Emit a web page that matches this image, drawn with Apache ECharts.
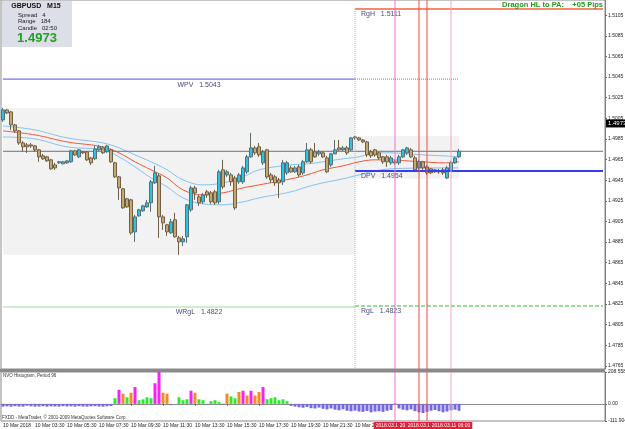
<!DOCTYPE html>
<html>
<head>
<meta charset="UTF-8">
<title>GBPUSD M15</title>
<script src="https://cdn.jsdelivr.net/npm/echarts@6.0.0/dist/echarts.min.js"></script>
<style>
body { margin: 0; padding: 0; background: #fff; }
#main { width: 625px; height: 429px; }
</style>
</head>
<body>
<div id="main"></div>
<script>
// candles, one per M15 bar
var opens = [1.50034,1.50131,1.50112,1.49986,1.49928,1.49811,1.49792,1.49792,1.49782,1.49744,
 1.49686,1.49676,1.49647,1.49598,1.49618,1.49608,1.49618,1.49628,1.49734,1.49676,
 1.49725,1.49725,1.49666,1.49657,1.49744,1.49763,1.49725,1.49744,1.49618,1.49482,
 1.49366,1.49269,1.49259,1.48949,1.49104,1.49153,1.49191,1.49230,1.49424,1.49492,
 1.49094,1.49017,1.48939,1.49065,1.48891,1.48852,1.48901,1.49162,1.49375,1.49288,
 1.49240,1.49337,1.49327,1.49337,1.49240,1.49550,1.49501,1.49501,1.49472,1.49434,
 1.49434,1.49531,1.49676,1.49763,1.49773,1.49618,1.49744,1.49501,1.49482,1.49453,
 1.49434,1.49521,1.49569,1.49531,1.49579,1.49521,1.49628,1.49744,1.49725,1.49705,
 1.49715,1.49666,1.49598,1.49705,1.49763,1.49744,1.49763,1.49744,1.49869,1.49860,
 1.49840,1.49821,1.49725,1.49744,1.49715,1.49676,1.49676,1.49618,1.49628,1.49618,
 1.49676,1.49715,1.49744,1.49666,1.49569,1.49628,1.49579,1.49560,1.49550,1.49540,
 1.49550,1.49472,1.49550,1.49618,1.49676];
var closes = [1.50131,1.50102,1.49986,1.49928,1.49811,1.49773,1.49773,1.49782,1.49744,1.49676,
 1.49657,1.49637,1.49560,1.49569,1.49628,1.49628,1.49637,1.49734,1.49695,1.49744,
 1.49715,1.49647,1.49618,1.49753,1.49773,1.49715,1.49782,1.49628,1.49482,1.49375,
 1.49182,1.49191,1.48939,1.49094,1.49162,1.49201,1.49230,1.49434,1.49521,1.49094,
 1.49036,1.48949,1.49046,1.48901,1.48852,1.48881,1.49211,1.49375,1.49327,1.49230,
 1.49307,1.49307,1.49240,1.49230,1.49531,1.49385,1.49531,1.49434,1.49182,1.49501,
 1.49569,1.49676,1.49763,1.49715,1.49695,1.49725,1.49482,1.49453,1.49424,1.49424,
 1.49618,1.49618,1.49531,1.49569,1.49501,1.49628,1.49744,1.49628,1.49676,1.49725,
 1.49676,1.49531,1.49705,1.49744,1.49744,1.49763,1.49715,1.49860,1.49860,1.49840,
 1.49821,1.49695,1.49686,1.49695,1.49666,1.49628,1.49628,1.49666,1.49618,1.49676,
 1.49744,1.49763,1.49676,1.49550,1.49628,1.49569,1.49521,1.49521,1.49531,1.49531,
 1.49521,1.49569,1.49618,1.49666,1.49730];
var lows = [1.50015,1.50092,1.49937,1.49908,1.49792,1.49725,1.49715,1.49763,1.49725,1.49628,
 1.49647,1.49628,1.49550,1.49550,1.49608,1.49608,1.49608,1.49618,1.49686,1.49666,
 1.49705,1.49637,1.49598,1.49647,1.49734,1.49705,1.49715,1.49618,1.49472,1.49259,
 1.49172,1.49182,1.48920,1.48852,1.49094,1.49143,1.49182,1.49143,1.49414,1.48891,
 1.48968,1.48910,1.48930,1.48891,1.48726,1.48813,1.48843,1.49143,1.49259,1.49201,
 1.49220,1.49278,1.49220,1.49211,1.49220,1.49366,1.49482,1.49395,1.49162,1.49414,
 1.49414,1.49511,1.49666,1.49695,1.49676,1.49598,1.49463,1.49424,1.49395,1.49278,
 1.49404,1.49501,1.49521,1.49521,1.49482,1.49501,1.49618,1.49608,1.49666,1.49686,
 1.49666,1.49521,1.49579,1.49715,1.49734,1.49734,1.49695,1.49734,1.49840,1.49831,
 1.49811,1.49676,1.49666,1.49676,1.49647,1.49608,1.49579,1.49598,1.49598,1.49598,
 1.49666,1.49695,1.49666,1.49540,1.49550,1.49550,1.49501,1.49511,1.49521,1.49511,
 1.49501,1.49463,1.49540,1.49608,1.49666];
var highs = [1.50150,1.50141,1.50121,1.49995,1.49937,1.49831,1.49811,1.49811,1.49792,1.49753,
 1.49705,1.49686,1.49657,1.49618,1.49637,1.49637,1.49647,1.49744,1.49744,1.49753,
 1.49734,1.49734,1.49676,1.49782,1.49792,1.49782,1.49792,1.49753,1.49628,1.49492,
 1.49375,1.49278,1.49269,1.49114,1.49172,1.49211,1.49259,1.49453,1.49589,1.49511,
 1.49114,1.49027,1.49075,1.49133,1.48910,1.48910,1.49220,1.49395,1.49395,1.49307,
 1.49327,1.49356,1.49346,1.49356,1.49550,1.49647,1.49550,1.49521,1.49492,1.49521,
 1.49589,1.49695,1.49908,1.49782,1.49811,1.49744,1.49753,1.49521,1.49501,1.49472,
 1.49647,1.49637,1.49589,1.49589,1.49598,1.49647,1.49811,1.49763,1.49811,1.49744,
 1.49734,1.49686,1.49715,1.49840,1.49840,1.49782,1.49782,1.49869,1.49879,1.49869,
 1.49850,1.49831,1.49744,1.49753,1.49725,1.49686,1.49695,1.49686,1.49647,1.49695,
 1.49753,1.49773,1.49763,1.49686,1.49647,1.49637,1.49598,1.49569,1.49560,1.49560,
 1.49569,1.49589,1.49637,1.49676,1.49753];

// NVO histogram, period 96
var nvo = [-18,-16,-18,-15,-17,-18,-12,-16,-18,-17,-15,-18,-16,-17,-18,-15,-17,-16,-18,-15,
 -17,-18,-16,-15,-17,-18,-16,-14,
 37,92,67,43,73,110,24,30,43,37,135,208.558,73,67,-8,0,43,24,30,86,73,30,24,-6,18,24,12,3,
 67,49,37,78,86,55,86,55,78,110,30,37,43,24,30,18,
 -12,-18,-22,-25,-20,-28,-30,-24,-32,-36,-30,-38,-42,-35,-45,-48,-44,-50,-52,-46,-55,-50,
 -48,-52,-45,-40,5,-30,-38,-42,-36,-48,-55,-60,-52,-45,-40,-48,-55,-50,-42,-38,-45];

// moving average + envelope, read at a few bars
var maIdx = [0,8,16,25,29,33,37,41,45,50,55,60,64,72,76,80,85,89,93,97,101,105,110,114];
var maMid = [1.49928,1.49889,1.49821,1.49773,1.49715,1.49628,1.49550,1.49472,1.49356,1.49307,
 1.49327,1.49375,1.49404,1.49463,1.49501,1.49550,1.49589,1.49628,1.49647,1.49647,1.49637,1.49628,1.49618,1.49628];
var maUp = [1.49976,1.49937,1.49860,1.49811,1.49763,1.49695,1.49628,1.49550,1.49453,1.49404,
 1.49424,1.49482,1.49550,1.49598,1.49608,1.49628,1.49657,1.49676,1.49715,1.49715,1.49705,1.49695,1.49686,1.49676];
var maDn = [1.49869,1.49850,1.49773,1.49744,1.49676,1.49579,1.49472,1.49385,1.49278,1.49220,
 1.49211,1.49240,1.49278,1.49337,1.49385,1.49424,1.49463,1.49501,1.49540,1.49560,1.49565,1.49569,1.49569,1.49569];

var priceTicks = [1.4765,1.4785,1.4805,1.4825,1.4845,1.4865,1.4885,1.4905,1.4925,1.4945,
 1.4965,1.4985,1.5005,1.5025,1.5045,1.5065,1.5085,1.5105];
var nvoTicks = [208.558, 0, -111.904];
var timeLabels = ['10 Mar 2018','10 Mar 03:30','10 Mar 05:30','10 Mar 07:30','10 Mar 09:30',
 '10 Mar 11:30','10 Mar 13:30','10 Mar 15:30','10 Mar 17:30','10 Mar 19:30','10 Mar 21:30','10 Mar 23:30'];

// levels drawn by the Dragon indicator
var RGH = 1.5111, WPV = 1.5043, DPV = 1.4954, RGL = 1.4823, WRGL = 1.4822, BID = 1.4973;
var prevHigh = 1.50150, prevLow = 1.48726, dayHigh = 1.49879, dayLow = 1.49463;
var dayStart = 88, lastBar = 114;
var vlines = [98, 104, 106, 112];
var vlineColors = ['#ec70d0', '#ec4a40', '#ec4a40', '#f2a8bc'];
var vlineLabels = ['2018.03.11 01:30', '2018.03.11 03:15', '2018.03.11 04:00', '2018.03.11 06:00'];

var YMIN = 1.47619, YMAX = 1.51197;
var NMIN = -111.904, NMAX = 208.558;
var SLOTS = 151; // includes the empty chart shift on the right
var FONT = 'Liberation Sans';

var cats = [];
for (var i = 0; i < SLOTS; i++) cats.push(i);
var ohlc = opens.map(function(o, i) { return [o, closes[i], lows[i], highs[i]]; });
function pts(vals) { return maIdx.map(function(x, k) { return [x, vals[k]]; }); }

function lvlLabel(text, pos, pad) {
    return { show: true, formatter: text, position: pos, color: '#4a4a7c', fontSize: 7,
             fontFamily: FONT, distance: 2, padding: pad };
}
// one line series per drawn object; a transparent markLine only carries its label
function obj(grid, color, type, width, line, mark, z) {
    var s = { type: 'line', xAxisIndex: grid, yAxisIndex: grid, data: line, symbol: 'none', showSymbol: false,
              silent: true, z: z || 5, lineStyle: { color: color, type: type, width: width } };
    if (mark) {
        s.markLine = { silent: true, symbol: ['none', 'none'], animation: false,
                       lineStyle: { color: 'rgba(0,0,0,0)' }, data: [mark] };
    }
    return s;
}
function hseg(a, b, y) { return [[a, y], [b, y]]; }
function hlab(a, b, y, label) { return [{ coord: [a, y], label: label }, { coord: [b, y] }]; }

var objects = [
    obj(0, '#f4603c', 'solid', 1.5, hseg(dayStart, SLOTS - 1, RGH),
        hlab(dayStart, SLOTS - 1, RGH, lvlLabel('RgH   ' + RGH.toFixed(4), 'insideStartBottom', [0,0,0,4]))),
    obj(0, '#7272f2', 'solid', 1.2, hseg(0, dayStart, WPV),
        hlab(0, dayStart, WPV, lvlLabel('WPV   ' + WPV.toFixed(4), 'insideMiddleBottom', [0,0,0,40]))),
    obj(0, '#7272f2', 'dotted', 1, hseg(dayStart, lastBar, WPV)),
    obj(0, '#3a3af0', 'solid', 2, hseg(dayStart, SLOTS - 1, DPV),
        hlab(dayStart, SLOTS - 1, DPV, lvlLabel('DPV   ' + DPV.toFixed(4), 'insideStartBottom', [0,0,0,4]))),
    obj(0, '#96e096', 'solid', 1.2, hseg(0, dayStart, WRGL),
        hlab(0, dayStart, WRGL, lvlLabel('WRgL   ' + WRGL.toFixed(4), 'insideMiddleBottom', [0,0,0,40]))),
    obj(0, '#2cc02c', 'dashed', 1, hseg(dayStart, SLOTS - 1, RGL),
        hlab(dayStart, SLOTS - 1, RGL, lvlLabel('RgL   ' + RGL.toFixed(4), 'insideStartBottom', [0,0,0,4]))),
    obj(0, '#d8b46a', 'dotted', 1, [[dayStart, RGH], [dayStart, YMIN]]),
    obj(0, '#70707e', 'solid', 1, hseg(0, SLOTS - 1, BID),
        { yAxis: BID, label: { show: true, position: 'end', formatter: BID.toFixed(4), backgroundColor: '#000',
                               color: '#fff', fontSize: 6, fontFamily: FONT, padding: [1, 2], distance: 1 } }, 3)
];
vlines.forEach(function(b, k) {
    objects.push(obj(0, vlineColors[k], 'solid', 1, [[b, YMAX], [b, YMIN]]));
    objects.push(obj(1, vlineColors[k], 'solid', 1, [[b, NMAX], [b, NMIN]],
        { xAxis: b, label: { show: true, position: 'start', formatter: vlineLabels[k], backgroundColor: '#e2203c',
                             color: '#fff', fontSize: 5, fontFamily: FONT, padding: [1, 2], distance: 1 } }));
});

var chart = echarts.init(document.getElementById('main'));
var option = {
    animation: false,
    backgroundColor: '#ffffff',
    grid: [
        { left: 1, right: 20, top: 0, height: 369, show: true, borderColor: '#8a8a8a', borderWidth: 1, outerBoundsMode: 'none' },
        { left: 1, right: 20, top: 372, height: 49, show: true, borderColor: '#8a8a8a', borderWidth: 1, outerBoundsMode: 'none' }
    ],
    xAxis: [
        { type: 'category', gridIndex: 0, data: cats, axisLine: { show: false }, axisTick: { show: false }, axisLabel: { show: false } },
        { type: 'category', gridIndex: 1, data: cats,
          axisLine: { show: true, lineStyle: { color: '#8a8a8a' } },
          axisTick: { show: true, alignWithLabel: true, length: 2, lineStyle: { color: '#666' },
                      interval: function(idx) { return idx % 8 === 0 && idx / 8 < timeLabels.length; } },
          axisLabel: { interval: 0, align: 'left', fontSize: 5, fontFamily: FONT, color: '#222', margin: 2,
                       formatter: function(v, idx) { return (idx % 8 === 0 && idx / 8 < timeLabels.length) ? timeLabels[idx / 8] : ''; } } }
    ],
    yAxis: [
        { type: 'value', gridIndex: 0, position: 'right', min: YMIN, max: YMAX, splitLine: { show: false },
          axisLine: { show: true, lineStyle: { color: '#808080' } },
          axisTick: { show: true, length: 2, customValues: priceTicks, lineStyle: { color: '#666' } },
          axisLabel: { customValues: priceTicks, fontSize: 5, fontFamily: FONT, color: '#222', margin: 3,
                       formatter: function(v) { return v.toFixed(4); } } },
        { type: 'value', gridIndex: 1, position: 'right', min: NMIN, max: NMAX, splitLine: { show: false },
          axisLine: { show: true, lineStyle: { color: '#808080' } },
          axisTick: { show: true, length: 2, customValues: nvoTicks, lineStyle: { color: '#666' } },
          axisLabel: { customValues: nvoTicks, fontSize: 5, fontFamily: FONT, color: '#222', margin: 3,
                       formatter: function(v) { return v === 0 ? '0.00' : String(v); } } }
    ],
    series: [
        { type: 'line', xAxisIndex: 0, yAxisIndex: 0, data: pts(maUp), showSymbol: false, smooth: 0.4, z: 2,
          lineStyle: { color: '#86c2f2', width: 1 },
          markArea: { silent: true, itemStyle: { color: 'rgba(90,90,100,0.08)' },
                      data: [[{ coord: [0, prevHigh] }, { coord: [dayStart, prevLow] }],
                             [{ coord: [dayStart, dayHigh] }, { coord: [lastBar, dayLow] }]] } },
        { type: 'line', xAxisIndex: 0, yAxisIndex: 0, data: pts(maDn), showSymbol: false, smooth: 0.4, z: 2,
          lineStyle: { color: '#86c2f2', width: 1 } },
        { type: 'line', xAxisIndex: 0, yAxisIndex: 0, data: pts(maMid), showSymbol: false, smooth: 0.4, z: 2,
          lineStyle: { color: '#f0583c', width: 1 } },
        { type: 'candlestick', xAxisIndex: 0, yAxisIndex: 0, data: ohlc, barWidth: 3, z: 4,
          itemStyle: { color: '#22c6e6', color0: '#c8a86a', borderColor: '#5c6c72', borderColor0: '#6e6048', borderWidth: 1 } },
        { type: 'bar', xAxisIndex: 1, yAxisIndex: 1, data: nvo, barWidth: 3,
          itemStyle: { color: function(p) {
              var v = p.value;
              if (v > 82) return '#ff1cff';
              if (v > 50) return '#f68a22';
              if (v > 0) return '#2ee82e';
              return '#7468e6';
          } } }
    ].concat(objects),
    graphic: [
        { type: 'rect', shape: { x: 0, y: 369, width: 605, height: 3 }, style: { fill: '#8a8a8a' }, z: 100 },
        { type: 'rect', shape: { x: 2, y: 1, width: 70, height: 46 }, style: { fill: '#dcdee8' }, z: 100 },
        { type: 'text', x: 36, y: 6, z: 101, style: { text: 'GBPUSD   M15', font: 'bold 7px "Liberation Sans"', fill: '#111', textAlign: 'center', textVerticalAlign: 'middle' } },
        { type: 'text', x: 18, y: 15, z: 101, style: { text: 'Spread   4', font: '6px "Liberation Sans"', fill: '#222', textVerticalAlign: 'middle' } },
        { type: 'text', x: 18, y: 21.5, z: 101, style: { text: 'Range   184', font: '6px "Liberation Sans"', fill: '#222', textVerticalAlign: 'middle' } },
        { type: 'text', x: 18, y: 28, z: 101, style: { text: 'Candle   02:50', font: '6px "Liberation Sans"', fill: '#222', textVerticalAlign: 'middle' } },
        { type: 'text', x: 37, y: 38.5, z: 101, style: { text: BID.toFixed(4), font: 'bold 13px "Liberation Sans"', fill: '#22a022', textAlign: 'center', textVerticalAlign: 'middle' } },
        { type: 'text', x: 603, y: 5, z: 101, style: { text: 'Dragon HL to PA:    +05 Pips', font: 'bold 7.5px "Liberation Sans"', fill: '#1f9a1f', textAlign: 'right', textVerticalAlign: 'middle' } },
        { type: 'text', x: 3, y: 376, z: 101, style: { text: 'NVO Histogram, Period 96', font: '4.5px "Liberation Sans"', fill: '#333', textVerticalAlign: 'middle' } },
        { type: 'text', x: 2, y: 418, z: 101, style: { text: 'FXDD - MetaTrader, \u00a9 2001-2009 MetaQuotes Software Corp.', font: '4.5px "Liberation Sans"', fill: '#333', textVerticalAlign: 'middle' } }
    ]
};
chart.setOption(option);
</script>
</body>
</html>
